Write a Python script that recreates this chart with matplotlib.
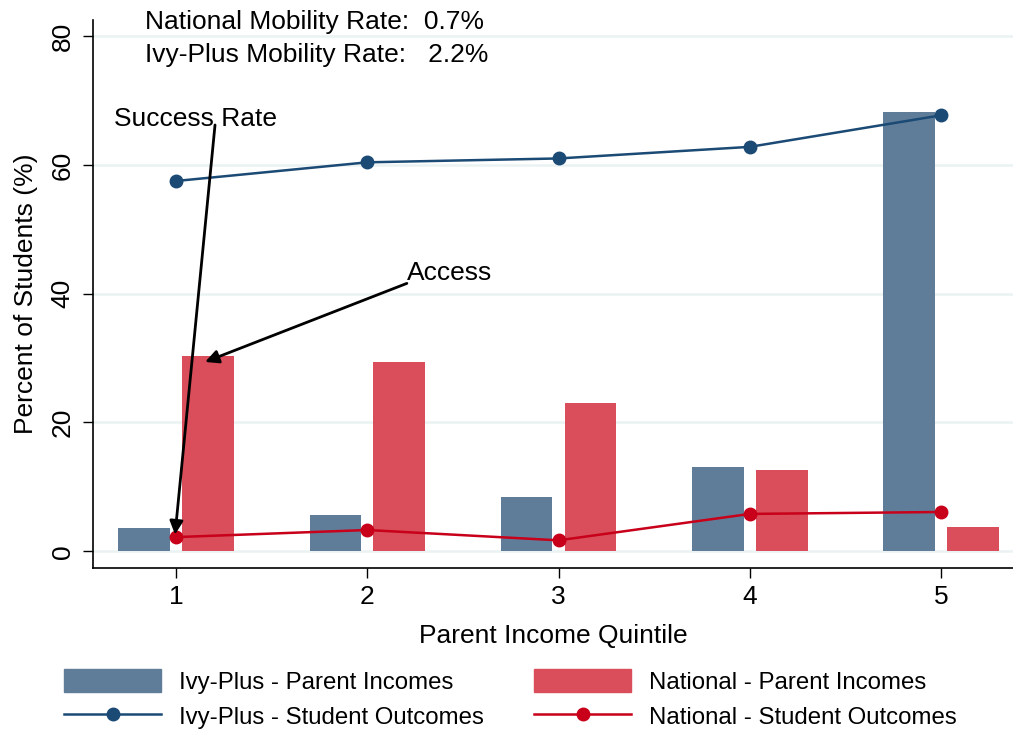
import matplotlib
matplotlib.use("Agg")
import matplotlib.pyplot as plt
from matplotlib.patches import Patch
from matplotlib.lines import Line2D
import numpy as np

plt.rcParams['font.family'] = ['Liberation Sans', 'DejaVu Sans']

quintiles = [1, 2, 3, 4, 5]
ivy_parent = [3.6, 5.6, 8.5, 13.1, 68.2]
natl_parent = [30.3, 29.4, 23.0, 12.6, 3.7]
ivy_success = [57.5, 60.4, 61.0, 62.8, 67.7]
natl_success = [2.2, 3.3, 1.7, 5.8, 6.1]
y_ticks = [0, 20, 40, 60, 80]

c_ivy_bar = '#5F7D99'
c_nat_bar = '#D94E5A'
c_ivy_line = '#1B4A75'
c_nat_line = '#C8001A'

FS = 19
LFS = 17.3

fig = plt.figure(figsize=(10.13, 7.30), dpi=100)
ax = fig.add_axes([0.0918, 0.2219, 0.9082, 0.7507])

x = np.array(quintiles)
off = 0.167
w = 0.27
ax.bar(x - off, ivy_parent, width=w, color=c_ivy_bar, zorder=2)
ax.bar(x + off, natl_parent, width=w, color=c_nat_bar, zorder=2)
ax.plot(x, ivy_success, color=c_ivy_line, lw=1.8, marker='o', ms=9, zorder=3)
ax.plot(x, natl_success, color=c_nat_line, lw=1.8, marker='o', ms=9, zorder=3)

ax.set_xlim(0.566, 5.376)
ax.set_ylim(-2.6, 82.5)
ax.set_yticks(y_ticks)
ax.set_xticks(quintiles)
ax.tick_params(axis='y', labelrotation=90, labelsize=FS, length=7.2, width=1, pad=6)
ax.tick_params(axis='x', labelsize=FS, length=7.2, width=1, pad=5)
for lab in ax.get_yticklabels():
    lab.set_va('center')
ax.grid(axis='y', color='#EAF2F3', lw=1.8, zorder=0)
ax.set_axisbelow(True)
for s in ['top', 'right']:
    ax.spines[s].set_visible(False)
ax.spines['left'].set_linewidth(1.2)
ax.spines['bottom'].set_linewidth(1.2)
ax.set_ylabel('Percent of Students (%)', fontsize=FS, labelpad=9)
ax.set_xlabel('Parent Income Quintile', fontsize=FS, labelpad=11)

fig.text(145 / 1013, 1 - 22 / 730, 'National Mobility Rate:  0.7%',
         fontsize=FS, va='center', ha='left')
fig.text(145 / 1013, 1 - 55 / 730, 'Ivy-Plus Mobility Rate:   2.2%',
         fontsize=FS, va='center', ha='left')

ax.text(1.10, 67.2, 'Success Rate', fontsize=FS, ha='center', va='center')
ax.text(2.207, 43.2, 'Access', fontsize=FS, ha='left', va='center')
arrow = dict(arrowstyle='-|>', color='black', lw=2, mutation_scale=20, shrinkA=0, shrinkB=0)
ax.annotate('', xy=(0.995, 2.6), xytext=(1.204, 66.2), arrowprops=arrow)
ax.annotate('', xy=(1.152, 29.4), xytext=(2.207, 41.6), arrowprops=arrow)

handles = [
    Patch(color=c_ivy_bar, label='Ivy-Plus - Parent Incomes'),
    Line2D([0], [0], color=c_ivy_line, lw=1.8, marker='o', ms=9, label='Ivy-Plus - Student Outcomes'),
    Patch(color=c_nat_bar, label='National - Parent Incomes'),
    Line2D([0], [0], color=c_nat_line, lw=1.8, marker='o', ms=9, label='National - Student Outcomes'),
]
fig.legend(handles=handles, ncol=2, loc='center', bbox_to_anchor=(0.504, 1 - 699 / 730),
           frameon=False, fontsize=LFS, handlelength=4.04, handleheight=1.1,
           columnspacing=2.08, labelspacing=0.42, handletextpad=0.75)

fig.savefig('out.png', dpi=100)
